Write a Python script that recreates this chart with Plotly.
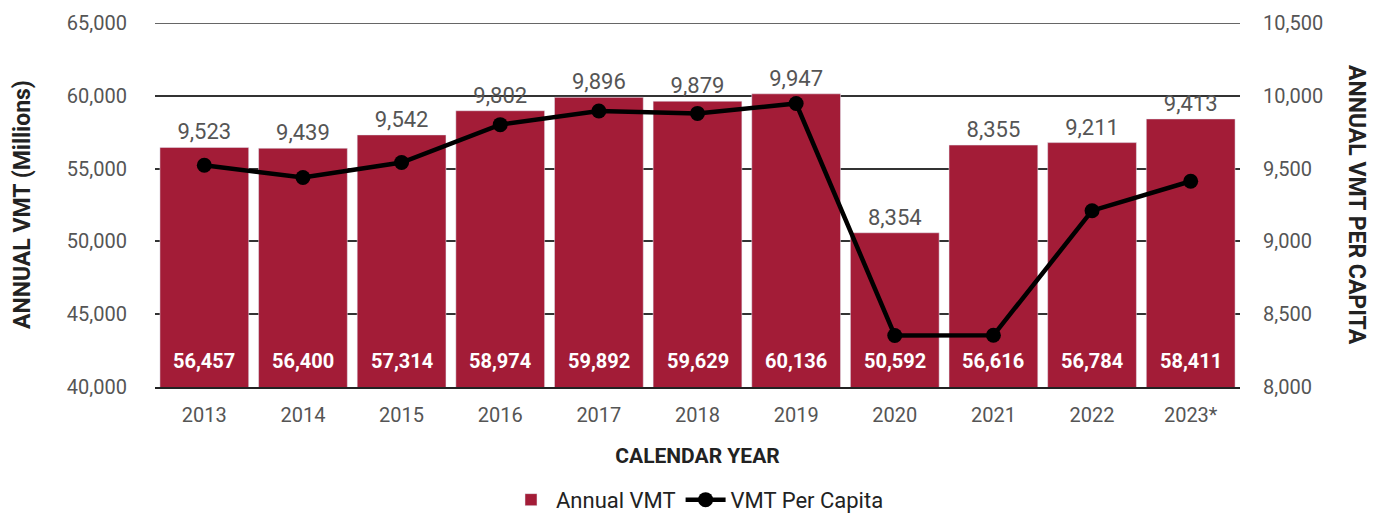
import plotly.graph_objects as go

years = ["2013", "2014", "2015", "2016", "2017", "2018", "2019", "2020", "2021", "2022", "2023*"]
annual_vmt = [56457, 56400, 57314, 58974, 59892, 59629, 60136, 50592, 56616, 56784, 58411]
vmt_per_capita = [9523, 9439, 9542, 9802, 9896, 9879, 9947, 8354, 8355, 9211, 9413]

FONT = "Roboto"
BAR = "#A31C37"
GRAY = "#555555"
DARK = "#222222"

fig = go.Figure()
fig.add_trace(go.Bar(
    x=years, y=annual_vmt, name="Annual VMT", marker_color=BAR,
    text=[f"{v:,}" for v in vmt_per_capita], textposition="outside",
    textfont=dict(family=FONT, size=22, color=GRAY), cliponaxis=False,
    constraintext="none",
))
fig.add_trace(go.Scatter(
    x=years, y=vmt_per_capita, name="VMT Per Capita", yaxis="y2",
    mode="lines+markers", line=dict(color="black", width=4.5),
    marker=dict(color="black", size=15), cliponaxis=False,
))

annotations = []
for i, v in enumerate(annual_vmt):
    annotations.append(dict(
        x=i, y=40000, xref="x", yref="y", text=f"<b>{v:,}</b>",
        showarrow=False, yanchor="bottom", yshift=12,
        font=dict(family=FONT, size=20, color="white"),
    ))
annotations.append(dict(
    x=0, y=0.5, xref="paper", yref="paper", text="<b>ANNUAL VMT (Millions)</b>",
    showarrow=False, textangle=-90, xanchor="center", xshift=-133,
    font=dict(family=FONT, size=23, color=DARK),
))
annotations.append(dict(
    x=1.0, y=0.5, xref="paper", yref="paper", text="<b>ANNUAL VMT PER CAPITA</b>",
    showarrow=False, textangle=90, xanchor="center", xshift=117,
    font=dict(family=FONT, size=23, color=DARK),
))

fig.add_shape(type="line", xref="paper", yref="y", x0=0, x1=1, y0=65000, y1=65000,
              line=dict(color="#333", width=1.5), layer="below")

fig.update_layout(
    width=1380, height=514,
    margin=dict(l=155, r=140, t=23, b=127, autoexpand=False),
    plot_bgcolor="white", paper_bgcolor="white",
    bargap=0.1,
    font=dict(family=FONT, color=GRAY),
    xaxis=dict(
        type="category", categoryorder="array", categoryarray=years,
        range=[-0.5, len(years) - 0.5], autorange=False,
        showline=True, linecolor=DARK, linewidth=2,
        tickfont=dict(family=FONT, size=20, color=GRAY), ticks="",
        ticklabelstandoff=9,
        title=dict(text="<b>CALENDAR YEAR</b>", font=dict(family=FONT, size=21, color=DARK), standoff=22),
    ),
    yaxis=dict(
        range=[40000, 65000], dtick=5000, tickformat=",",
        showgrid=True, gridcolor="#333", gridwidth=1.5, zeroline=False,
        tickfont=dict(family=FONT, size=20, color=GRAY), ticks="",
        ticklabelstandoff=27,
    ),
    yaxis2=dict(
        range=[8000, 10500], dtick=500, tickformat=",", overlaying="y", side="right",
        showgrid=False, zeroline=False,
        tickfont=dict(family=FONT, size=20, color=GRAY), ticks="",
        ticklabelstandoff=22,
    ),
    legend=dict(
        orientation="h", x=0.5, xanchor="center", y=-0.31, yanchor="middle",
        font=dict(family=FONT, size=22, color=DARK), itemwidth=40,
    ),
    annotations=annotations,
    showlegend=True,
)

fig.write_html("out.html", config={"displayModeBar": False},
               post_script="document.body.style.margin='0';")
